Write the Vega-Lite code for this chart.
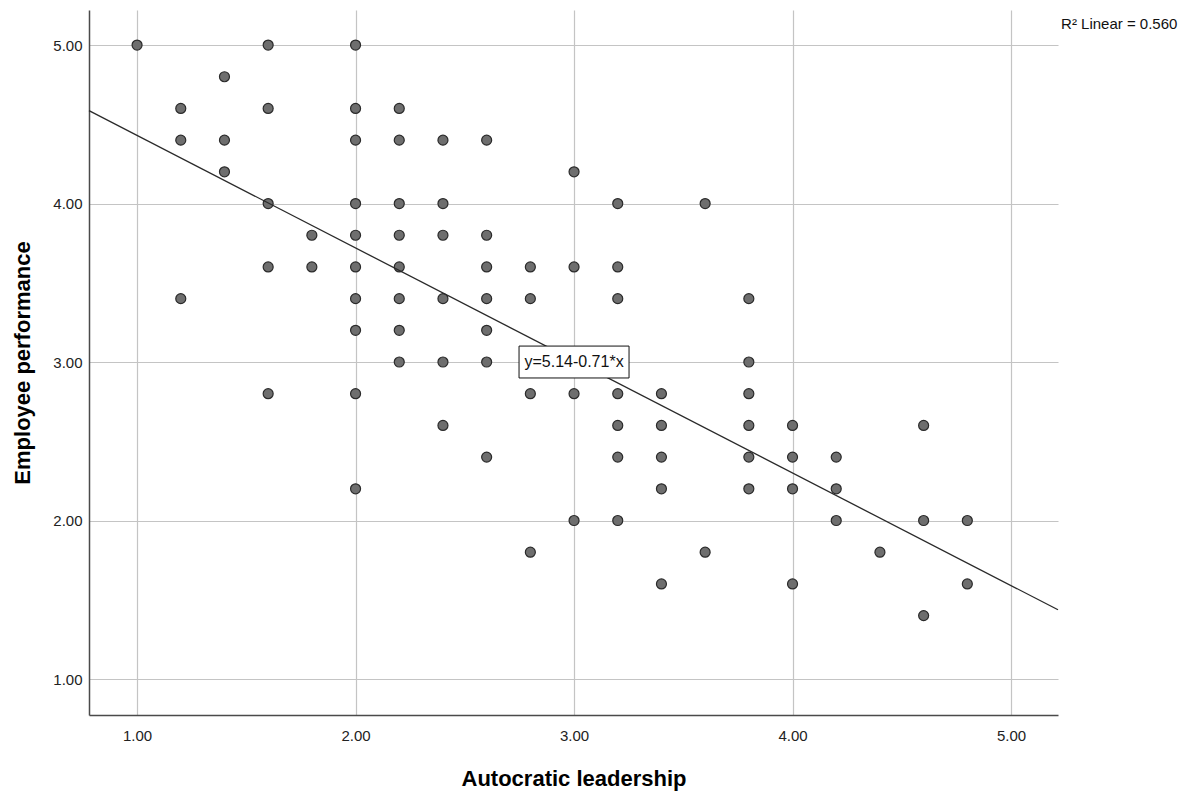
{
  "$schema": "https://vega.github.io/schema/vega-lite/v6.json",
  "width": 969,
  "height": 705,
  "autosize": {"type": "none"},
  "padding": {"left": 89, "top": 10, "right": 125, "bottom": 81},
  "background": "white",
  "config": {"view": {"stroke": null}, "font": "Liberation Sans"},
  "datasets": {
    "pts": [
      {"leadership": 1.0, "performance": 5.0},
      {"leadership": 1.2, "performance": 4.6}, {"leadership": 1.2, "performance": 4.4}, {"leadership": 1.2, "performance": 3.4},
      {"leadership": 1.4, "performance": 4.8}, {"leadership": 1.4, "performance": 4.4}, {"leadership": 1.4, "performance": 4.2},
      {"leadership": 1.6, "performance": 5.0}, {"leadership": 1.6, "performance": 4.6}, {"leadership": 1.6, "performance": 4.0}, {"leadership": 1.6, "performance": 3.6}, {"leadership": 1.6, "performance": 2.8},
      {"leadership": 1.8, "performance": 3.8}, {"leadership": 1.8, "performance": 3.6},
      {"leadership": 2.0, "performance": 5.0}, {"leadership": 2.0, "performance": 4.6}, {"leadership": 2.0, "performance": 4.4}, {"leadership": 2.0, "performance": 4.0}, {"leadership": 2.0, "performance": 3.8}, {"leadership": 2.0, "performance": 3.6}, {"leadership": 2.0, "performance": 3.4}, {"leadership": 2.0, "performance": 3.2}, {"leadership": 2.0, "performance": 2.8}, {"leadership": 2.0, "performance": 2.2},
      {"leadership": 2.2, "performance": 4.6}, {"leadership": 2.2, "performance": 4.4}, {"leadership": 2.2, "performance": 4.0}, {"leadership": 2.2, "performance": 3.8}, {"leadership": 2.2, "performance": 3.6}, {"leadership": 2.2, "performance": 3.4}, {"leadership": 2.2, "performance": 3.2}, {"leadership": 2.2, "performance": 3.0},
      {"leadership": 2.4, "performance": 4.4}, {"leadership": 2.4, "performance": 4.0}, {"leadership": 2.4, "performance": 3.8}, {"leadership": 2.4, "performance": 3.4}, {"leadership": 2.4, "performance": 3.0}, {"leadership": 2.4, "performance": 2.6},
      {"leadership": 2.6, "performance": 4.4}, {"leadership": 2.6, "performance": 3.8}, {"leadership": 2.6, "performance": 3.6}, {"leadership": 2.6, "performance": 3.4}, {"leadership": 2.6, "performance": 3.2}, {"leadership": 2.6, "performance": 3.0}, {"leadership": 2.6, "performance": 2.4},
      {"leadership": 2.8, "performance": 3.6}, {"leadership": 2.8, "performance": 3.4}, {"leadership": 2.8, "performance": 2.8}, {"leadership": 2.8, "performance": 1.8},
      {"leadership": 3.0, "performance": 4.2}, {"leadership": 3.0, "performance": 3.6}, {"leadership": 3.0, "performance": 2.8}, {"leadership": 3.0, "performance": 2.0},
      {"leadership": 3.2, "performance": 4.0}, {"leadership": 3.2, "performance": 3.6}, {"leadership": 3.2, "performance": 3.4}, {"leadership": 3.2, "performance": 2.8}, {"leadership": 3.2, "performance": 2.6}, {"leadership": 3.2, "performance": 2.4}, {"leadership": 3.2, "performance": 2.0},
      {"leadership": 3.4, "performance": 2.8}, {"leadership": 3.4, "performance": 2.6}, {"leadership": 3.4, "performance": 2.4}, {"leadership": 3.4, "performance": 2.2}, {"leadership": 3.4, "performance": 1.6},
      {"leadership": 3.6, "performance": 4.0}, {"leadership": 3.6, "performance": 1.8},
      {"leadership": 3.8, "performance": 3.4}, {"leadership": 3.8, "performance": 3.0}, {"leadership": 3.8, "performance": 2.8}, {"leadership": 3.8, "performance": 2.6}, {"leadership": 3.8, "performance": 2.4}, {"leadership": 3.8, "performance": 2.2},
      {"leadership": 4.0, "performance": 2.6}, {"leadership": 4.0, "performance": 2.4}, {"leadership": 4.0, "performance": 2.2}, {"leadership": 4.0, "performance": 1.6},
      {"leadership": 4.2, "performance": 2.4}, {"leadership": 4.2, "performance": 2.2}, {"leadership": 4.2, "performance": 2.0},
      {"leadership": 4.4, "performance": 1.8},
      {"leadership": 4.6, "performance": 2.6}, {"leadership": 4.6, "performance": 2.0}, {"leadership": 4.6, "performance": 1.4},
      {"leadership": 4.8, "performance": 2.0}, {"leadership": 4.8, "performance": 1.6}
    ],
    "fit": [
      {"leadership": 0.78, "performance": 4.586},
      {"leadership": 5.215, "performance": 1.437}
    ],
    "eq": [
      {"leadership": 3.0, "performance": 3.0, "label": "y=5.14-0.71*x"}
    ],
    "r2": [
      {"leadership": 5.229, "performance": 5.135, "label": "R² Linear = 0.560"}
    ]
  },
  "layer": [
    {
      "data": {"name": "pts"},
      "mark": {"type": "circle", "size": 100, "fill": "#6e6e6e", "stroke": "#2a2a2a", "strokeWidth": 1.2, "opacity": 1},
      "encoding": {
        "x": {
          "field": "leadership", "type": "quantitative",
          "scale": {"domain": [0.78, 5.215], "nice": false, "zero": false},
          "axis": {
            "title": "Autocratic leadership", "values": [1, 2, 3, 4, 5], "format": ".2f",
            "ticks": false, "labelPadding": 13, "labelFontSize": 15, "labelColor": "#222",
            "grid": true, "gridColor": "#c4c4c4", "gridWidth": 1.2,
            "domainColor": "#4a4a4a", "domainWidth": 1.5,
            "titleFontSize": 22, "titleFontWeight": "bold", "titleColor": "#000", "titlePadding": 25
          }
        },
        "y": {
          "field": "performance", "type": "quantitative",
          "scale": {"domain": [0.773, 5.221], "nice": false, "zero": false},
          "axis": {
            "title": "Employee performance", "values": [1, 2, 3, 4, 5], "format": ".2f",
            "ticks": false, "labelPadding": 7, "labelFontSize": 15, "labelColor": "#222",
            "grid": true, "gridColor": "#c4c4c4", "gridWidth": 1.2,
            "domainColor": "#4a4a4a", "domainWidth": 1.5,
            "titleFontSize": 22, "titleFontWeight": "bold", "titleColor": "#000", "titlePadding": 18
          }
        }
      }
    },
    {
      "data": {"name": "fit"},
      "mark": {"type": "line", "color": "#2a2a2a", "strokeWidth": 1.3},
      "encoding": {
        "x": {"field": "leadership", "type": "quantitative"},
        "y": {"field": "performance", "type": "quantitative"}
      }
    },
    {
      "data": {"name": "eq"},
      "mark": {"type": "point", "shape": "M-1,-0.29H1V0.29H-1Z", "size": 12100, "filled": true, "fill": "white", "stroke": "#111", "strokeWidth": 1, "opacity": 1},
      "encoding": {
        "x": {"field": "leadership", "type": "quantitative"},
        "y": {"field": "performance", "type": "quantitative"}
      }
    },
    {
      "data": {"name": "eq"},
      "mark": {"type": "text", "fontSize": 16, "color": "#111", "align": "center", "baseline": "middle"},
      "encoding": {
        "x": {"field": "leadership", "type": "quantitative"},
        "y": {"field": "performance", "type": "quantitative"},
        "text": {"field": "label"}
      }
    },
    {
      "data": {"name": "r2"},
      "mark": {"type": "text", "fontSize": 15, "color": "#111", "align": "left", "baseline": "middle"},
      "encoding": {
        "x": {"field": "leadership", "type": "quantitative"},
        "y": {"field": "performance", "type": "quantitative"},
        "text": {"field": "label"}
      }
    }
  ]
}
